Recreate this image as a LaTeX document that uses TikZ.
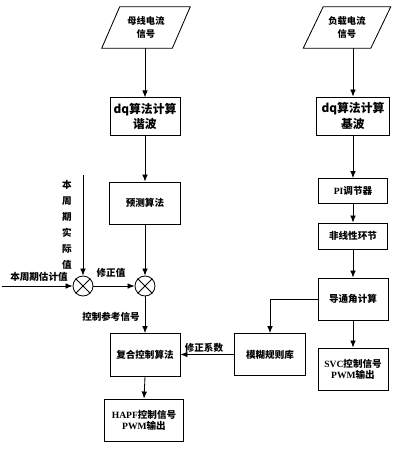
\documentclass[tikz,border=0pt]{standalone}
\usepackage{fontspec}
\setmainfont{Noto Sans CJK SC}
\newfontfamily\lat{Liberation Serif}
\usetikzlibrary{arrows.meta,positioning}
\tikzset{
  px/.style={x=0.025cm,y=-0.025cm},
  box/.style={draw,line width=0.6pt,inner sep=0pt,font=\fontsize{6.8}{8}\selectfont\bfseries,align=center},
  bigbox/.style={box,font=\fontsize{8.4}{11}\selectfont\bfseries},
  para/.style={inner sep=0pt,font=\fontsize{6.6}{9.5}\selectfont\bfseries,align=center},
  lbl/.style={inner sep=0pt,font=\fontsize{6.8}{8}\selectfont\bfseries,align=center},
  sum/.style={draw,circle,line width=0.6pt,minimum size=0.5cm,inner sep=0pt},
  arr/.style={line width=0.6pt,-{Latex[length=5pt,width=4pt]}},
  ln/.style={line width=0.6pt}
}
\begin{document}
\begin{tikzpicture}[px]
\useasboundingbox (0,0) rectangle (400,450);
% parallelograms
\node[para,minimum width=2.2cm,minimum height=1.025cm] (p1) at (146,27.5) {母线电流\\信号};
\draw[ln] ([xshift=0.45cm]p1.north west) -- (p1.north east) -- ([xshift=-0.45cm]p1.south east) -- (p1.south west) -- cycle;
\node[para,minimum width=2.175cm,minimum height=1.025cm] (p2) at (347,27.5) {负载电流\\信号};
\draw[ln] ([xshift=0.5cm]p2.north west) -- (p2.north east) -- ([xshift=-0.5cm]p2.south east) -- (p2.south west) -- cycle;
% left column
\node[bigbox,minimum width=1.75cm,minimum height=0.93cm] (dq1) at (145,116.5) {dq算法计算\\谐波};
\node[box,minimum width=1.775cm,minimum height=1.05cm] (pred) at (145,203) {预测算法};
\node[sum] (c1) at (83,286) {};
\node[sum] (c2) at (145,286) {};
\draw[ln] (c1.north west) -- (c1.south east) (c1.north east) -- (c1.south west);
\draw[ln] (c2.north west) -- (c2.south east) (c2.north east) -- (c2.south west);
\node[box,minimum width=1.75cm,minimum height=1.075cm] (comp) at (145,355) {复合控制算法};
\node[box,minimum width=1.975cm,minimum height=1.05cm] (hapf) at (144,420) {{\lat\bfseries HAPF}控制信号\\{\lat\bfseries PWM}输出};
% right column
\node[bigbox,minimum width=1.825cm,minimum height=0.95cm] (dq2) at (353,116) {dq算法计算\\基波};
\node[box,minimum width=1.725cm,minimum height=0.625cm] (pi) at (353,191) {{\lat\bfseries PI}调节器};
\node[box,minimum width=1.725cm,minimum height=0.65cm] (nl) at (353,236) {非线性环节};
\node[box,minimum width=1.75cm,minimum height=1.05cm] (cond) at (353,299) {导通角计算};
\node[box,minimum width=1.75cm,minimum height=1.05cm] (svc) at (353,369) {{\lat\bfseries SVC}控制信号\\{\lat\bfseries PWM}输出};
\node[box,minimum width=1.775cm,minimum height=1.05cm] (fuzzy) at (270,354.5) {模糊规则库};
% free ends
\coordinate (actTop) at (83,175);
\coordinate (estL) at (2,286);
% labels
\node[lbl] (l1) at (39,277) {本周期估计值};
\node[lbl,font=\fontsize{6.8}{11.4}\selectfont\bfseries] (l2) at (67,225) {本\\周\\期\\实\\际\\值};
\node[lbl] (l3) at (111,273) {修正值};
\node[lbl] (l4) at (111,317) {控制参考信号};
\node[lbl] (l5) at (204,348) {修正系数};
% connectors
\draw[arr] (p1.south -| dq1.north) -- (dq1.north);
\draw[arr] (dq1.south) -- (pred.north);
\draw[arr] (pred.south) -- (c2.north);
\draw[arr] (actTop) -- (c1.north);
\draw[arr] (estL) -- (c1.west);
\draw[arr] (c1.east) -- (c2.west);
\draw[arr] (c2.south) -- (comp.north);
\draw[arr] (comp.south) -- (hapf.north);
\draw[arr] (p2.south -| dq2.north) -- (dq2.north);
\draw[arr] (dq2.south) -- (pi.north);
\draw[arr] (pi.south) -- (nl.north);
\draw[arr] (nl.south) -- (cond.north);
\draw[arr] (cond.south) -- (svc.north);
\draw[arr] (cond.west) -| (fuzzy.north);
\draw[arr] (fuzzy.west) -- (comp.east |- fuzzy.west);
\end{tikzpicture}
\end{document}
